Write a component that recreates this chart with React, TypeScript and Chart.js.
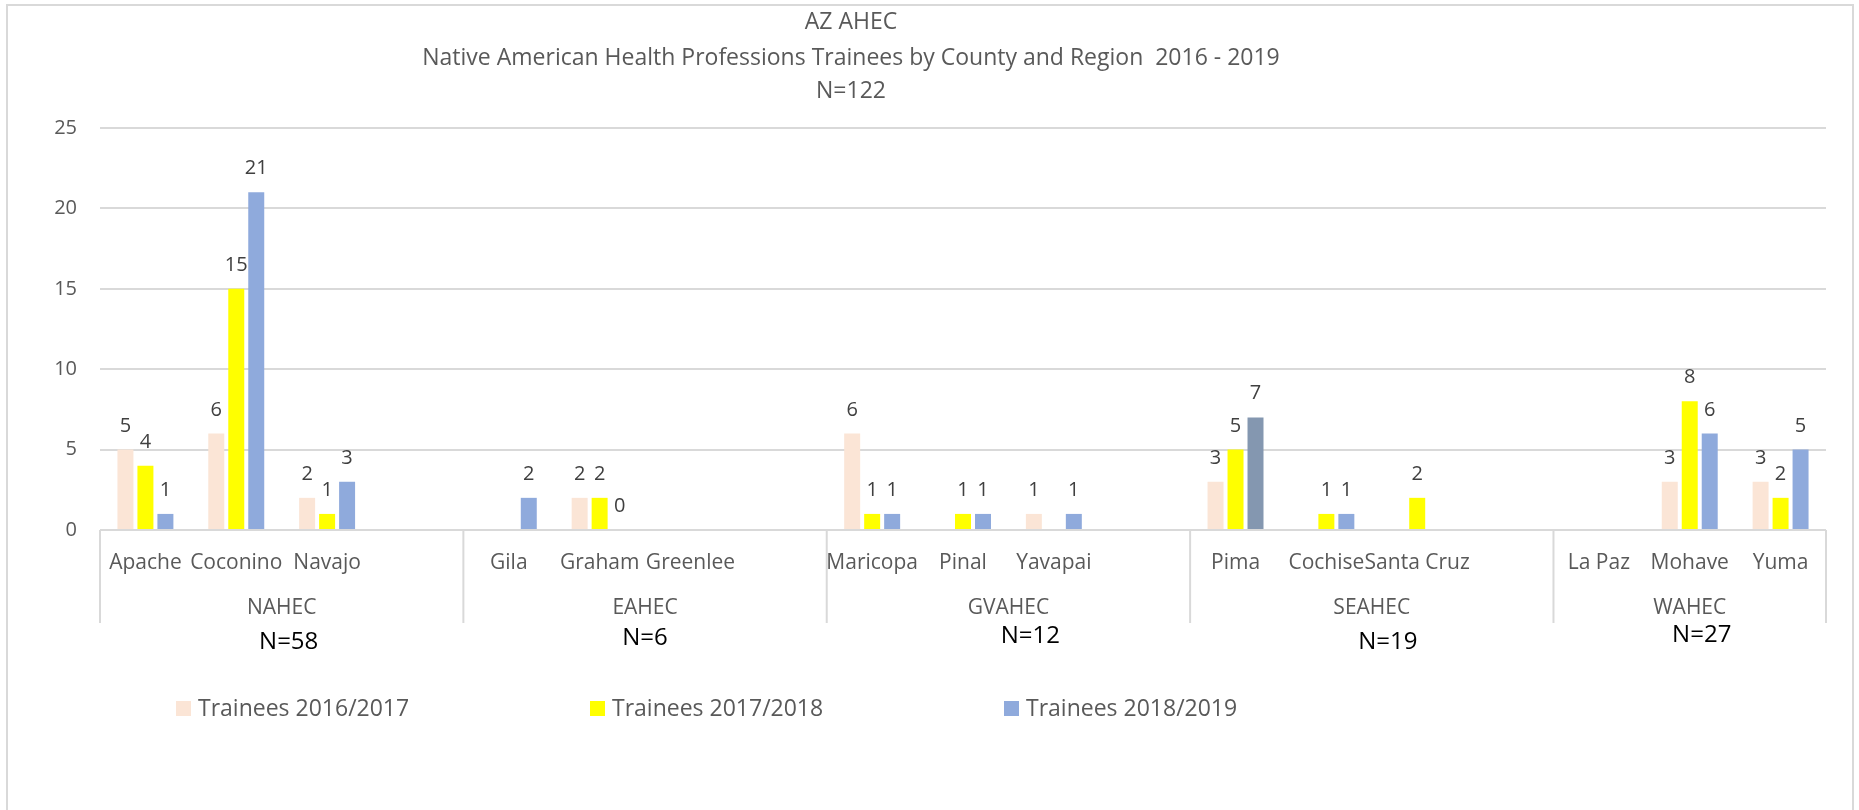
import React, { useEffect, useRef } from 'react';
import { Chart, registerables } from 'chart.js';

Chart.register(...registerables);

// ---------- data ----------
const counties = ['Apache', 'Coconino', 'Navajo', '', 'Gila', 'Graham', 'Greenlee', '', 'Maricopa', 'Pinal', 'Yavapai', '', 'Pima', 'Cochise', 'Santa Cruz', '', 'La Paz', 'Mohave', 'Yuma'];
const regions = ['NAHEC', 'EAHEC', 'GVAHEC', 'SEAHEC', 'WAHEC'];
const regionSlots = [4, 4, 4, 4, 3];
const regionTotals = ['N=58', 'N=6', 'N=12', 'N=19', 'N=27'];
const titleLines = ['AZ AHEC', 'Native American Health Professions Trainees by County and Region  2016 - 2019', 'N=122'];
const seriesNames = ['Trainees 2016/2017', 'Trainees 2017/2018', 'Trainees 2018/2019'];
const trainees1617 = [5, 6, 2, null, null, 2, null, null, 6, null, 1, null, 3, null, null, null, null, 3, 3];
const trainees1718 = [4, 15, 1, null, null, 2, null, null, 1, 1, null, null, 5, 1, 2, null, null, 8, 2];
const trainees1819 = [1, 21, 3, null, 2, 0, null, null, 1, 1, 1, null, 7, 1, null, null, null, 6, 5];
const yMin = 0;
const yMax = 25;
const yStep = 5;

const FONT = '"Open Sans", "Noto Sans", sans-serif';
const TEXT = '#595959';

const annotationsPlugin = {
  id: 'annotations',
  afterDatasetsDraw(chart: any) {
    const { ctx } = chart;
    ctx.save();
    ctx.font = `20px ${FONT}`;
    ctx.fillStyle = '#404040';
    ctx.textAlign = 'center';
    ctx.textBaseline = 'alphabetic';
    chart.data.datasets.forEach((ds: any, i: number) => {
      const meta = chart.getDatasetMeta(i);
      meta.data.forEach((el: any, j: number) => {
        const v = ds.data[j];
        if (v === null || v === undefined) return;
        ctx.fillText(String(v), el.x, el.y - 18);
      });
    });
    ctx.restore();
  },
  afterDraw(chart: any) {
    const { ctx, chartArea } = chart;
    const x = chart.scales.x;
    ctx.save();
    // title
    ctx.fillStyle = TEXT;
    ctx.textAlign = 'center';
    ctx.textBaseline = 'alphabetic';
    ctx.font = `23px ${FONT}`;
    const titleY = [29, 65, 98];
    titleLines.forEach((t, i) => ctx.fillText(t, 851, titleY[i]));

    // region separators & labels
    const slotW = x.getPixelForValue(1) - x.getPixelForValue(0);
    let start = 0;
    const nDx = [7, 0, 22, 16, 12];
    const nY = [642, 638, 636, 642, 635];
    ctx.strokeStyle = '#d9d9d9';
    ctx.lineWidth = 2;
    regions.forEach((r, gi) => {
      const left = x.getPixelForValue(start) - slotW / 2;
      const end = start + regionSlots[gi];
      const right = x.getPixelForValue(end - 1) + slotW / 2;
      ctx.beginPath();
      ctx.moveTo(left, chartArea.bottom);
      ctx.lineTo(left, 623);
      ctx.stroke();
      if (gi === regions.length - 1) {
        ctx.beginPath();
        ctx.moveTo(right, chartArea.bottom);
        ctx.lineTo(right, 623);
        ctx.stroke();
      }
      const cx = (left + right) / 2;
      ctx.fillStyle = TEXT;
      ctx.font = `21px ${FONT}`;
      ctx.textBaseline = 'middle';
      ctx.fillText(r, cx, 608);
      ctx.fillStyle = '#000000';
      ctx.font = `24px ${FONT}`;
      ctx.fillText(regionTotals[gi], cx + nDx[gi], nY[gi]);
      start = end;
    });

    // legend
    ctx.font = `23px ${FONT}`;
    ctx.textAlign = 'left';
    ctx.textBaseline = 'middle';
    chart.data.datasets.forEach((ds: any, i: number) => {
      const bx = 176 + i * 414;
      const col = Array.isArray(ds.legendColor) ? ds.legendColor[0] : ds.legendColor;
      ctx.fillStyle = col;
      ctx.fillRect(bx, 701, 15, 15);
      ctx.fillStyle = TEXT;
      ctx.fillText(ds.label, bx + 22, 709);
    });
    ctx.restore();
  },
};

export default function App() {
  const ref = useRef<HTMLCanvasElement | null>(null);
  useEffect(() => {
    if (!ref.current) return;
    const pimaIndex = counties.indexOf('Pima');
    const chart = new Chart(ref.current, {
      type: 'bar',
      data: {
        labels: counties,
        datasets: [
          { label: seriesNames[0], data: trainees1617, backgroundColor: '#FBE5D6', legendColor: '#FBE5D6' } as any,
          { label: seriesNames[1], data: trainees1718, backgroundColor: '#FFFF00', legendColor: '#FFFF00' } as any,
          {
            label: seriesNames[2],
            data: trainees1819,
            backgroundColor: (c: any) => (c.dataIndex === pimaIndex ? '#8497B0' : '#8FAADC'),
            legendColor: '#8FAADC',
          } as any,
        ],
      },
      options: {
        responsive: false,
        animation: false,
        devicePixelRatio: 1,
        layout: { padding: { top: 128, left: 0, right: 33, bottom: 0 } },
        datasets: { bar: { categoryPercentage: 0.66, barPercentage: 0.8, borderWidth: 0 } },
        plugins: {
          legend: { display: false },
          title: { display: false },
          tooltip: { enabled: false },
        },
        scales: {
          x: {
            grid: { display: false, drawTicks: false },
            border: { display: false },
            ticks: {
              autoSkip: false,
              maxRotation: 0,
              minRotation: 0,
              color: TEXT,
              font: { family: FONT, size: 21 },
              padding: 20,
            },
            afterFit: (s: any) => {
              s.height = 280;
            },
          },
          y: {
            min: yMin,
            max: yMax,
            grid: { color: '#d9d9d9', lineWidth: 2, drawTicks: false },
            border: { display: false },
            ticks: {
              stepSize: yStep,
              color: TEXT,
              font: { family: FONT, size: 20 },
              padding: 23,
            },
            afterFit: (s: any) => {
              s.width = 100;
            },
          },
        },
      },
      plugins: [annotationsPlugin],
    });
    return () => chart.destroy();
  }, []);

  return (
    <div style={{ position: 'fixed', left: 0, top: 0, width: 1859, height: 810, overflow: 'hidden', background: '#ffffff' }}>
      <div
        style={{
          position: 'absolute',
          left: 6,
          top: 4,
          width: 1844,
          height: 900,
          border: '2px solid #d9d9d9',
          boxSizing: 'content-box',
        }}
      />
      <canvas ref={ref} width={1859} height={810} style={{ position: 'absolute', left: 0, top: 0 }} />
    </div>
  );
}
